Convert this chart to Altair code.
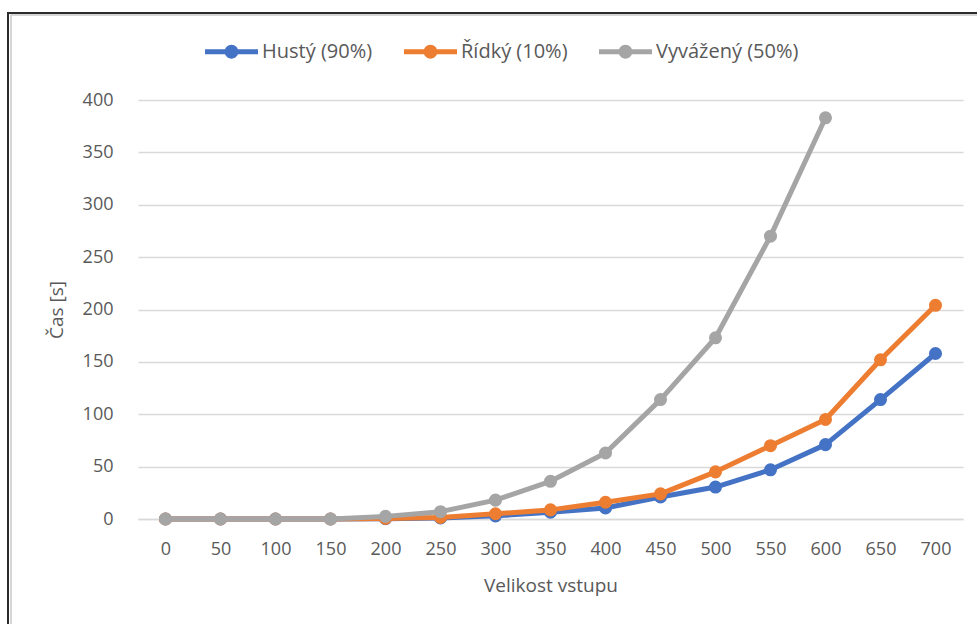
import altair as alt
import pandas as pd

sizes = [0, 50, 100, 150, 200, 250, 300, 350, 400, 450, 500, 550, 600, 650, 700]
husty = [0, 0, 0, 0, 0.3, 1, 3, 6.5, 10.5, 21, 30.5, 47, 71, 114, 158]
ridky = [0, 0, 0, 0, 0.5, 1.5, 5, 8.7, 16, 24, 45, 70, 95, 152, 204]
vyvazeny = [0, 0, 0, 0, 2.5, 7, 18, 36, 63, 114, 173, 270, 383, None, None]

series_names = ["Hustý (90%)", "Řídký (10%)", "Vyvážený (50%)"]
series_values = [husty, ridky, vyvazeny]
colors = ["#4472C4", "#ED7D31", "#A5A5A5"]

rows = []
for name, vals in zip(series_names, series_values):
    for s, v in zip(sizes, vals):
        if v is not None:
            rows.append({"size": s, "time": v, "series": name})
df = pd.DataFrame(rows)

FONT = "Open Sans"
TXT = "#595959"

legend_path = ("M-1,-0.094L1,-0.094L1,0.094L-1,0.094Z "
               "M-0.26,0A0.26,0.26 0 1,1 0.26,0A0.26,0.26 0 1,1 -0.26,0Z")

color_enc = alt.Color(
    "series:N",
    scale=alt.Scale(domain=series_names, range=colors),
    legend=alt.Legend(
        title=None, orient="none", direction="horizontal",
        legendX=67, legendY=-75,
        symbolType=legend_path, symbolSize=2809, symbolStrokeWidth=0,
        labelFont=FONT, labelFontSize=20, labelColor=TXT,
        labelOffset=4, columnPadding=31,
    ),
)

x_enc = alt.X(
    "size:Q",
    scale=alt.Scale(domain=[-25, 725], nice=False, zero=False),
    axis=alt.Axis(
        values=sizes, title="Velikost vstupu", grid=False, ticks=False,
        domain=True, domainColor="#D9D9D9", domainWidth=1.5,
        labelPadding=21, titlePadding=18, labelFlush=False,
    ),
)
y_enc = alt.Y(
    "time:Q",
    scale=alt.Scale(domain=[0, 400], nice=False),
    axis=alt.Axis(
        values=[0, 50, 100, 150, 200, 250, 300, 350, 400], title="Čas [s]",
        grid=True, gridColor="#D9D9D9", gridWidth=1.5, ticks=False,
        domain=False, labelPadding=25, titlePadding=16,
    ),
)

layers = []
for name in series_names:
    base = alt.Chart(df).transform_filter(alt.datum.series == name)
    layers.append(
        base.mark_line(strokeWidth=5, strokeJoin="round").encode(
            x=x_enc, y=y_enc, color=color_enc, order="size:Q"
        )
    )
    layers.append(
        base.mark_point(filled=True, opacity=1, size=170).encode(
            x=x_enc, y=y_enc, color=color_enc
        )
    )

border_top = alt.Chart(df).mark_rule(color="#2b2b2b", strokeWidth=2).encode(
    x=alt.value(-131), x2=alt.value(845), y=alt.value(-87)
)
border_top2 = alt.Chart(df).mark_rule(color="#D6D6D6", strokeWidth=2).encode(
    x=alt.value(-128), x2=alt.value(845), y=alt.value(-85)
)
border_left = alt.Chart(df).mark_rule(color="#2b2b2b", strokeWidth=2).encode(
    x=alt.value(-130), y=alt.value(-88), y2=alt.value(530)
)
border_left2 = alt.Chart(df).mark_rule(color="#D6D6D6", strokeWidth=2).encode(
    x=alt.value(-127), y=alt.value(-85), y2=alt.value(530)
)

chart = alt.layer(border_top, border_top2, border_left, border_left2, *layers).properties(
    width=825, height=419,
    background="white",
    autosize=alt.AutoSizeParams(type="none"),
    padding={"left": 138, "top": 100, "right": 14, "bottom": 105},
).configure_view(stroke=None).configure_axis(
    labelFont=FONT, labelFontSize=18, labelColor=TXT,
    titleFont=FONT, titleFontSize=19, titleColor=TXT, titleFontWeight="normal",
)

chart.save("out.html", embed_options={"renderer": "svg", "actions": False})
